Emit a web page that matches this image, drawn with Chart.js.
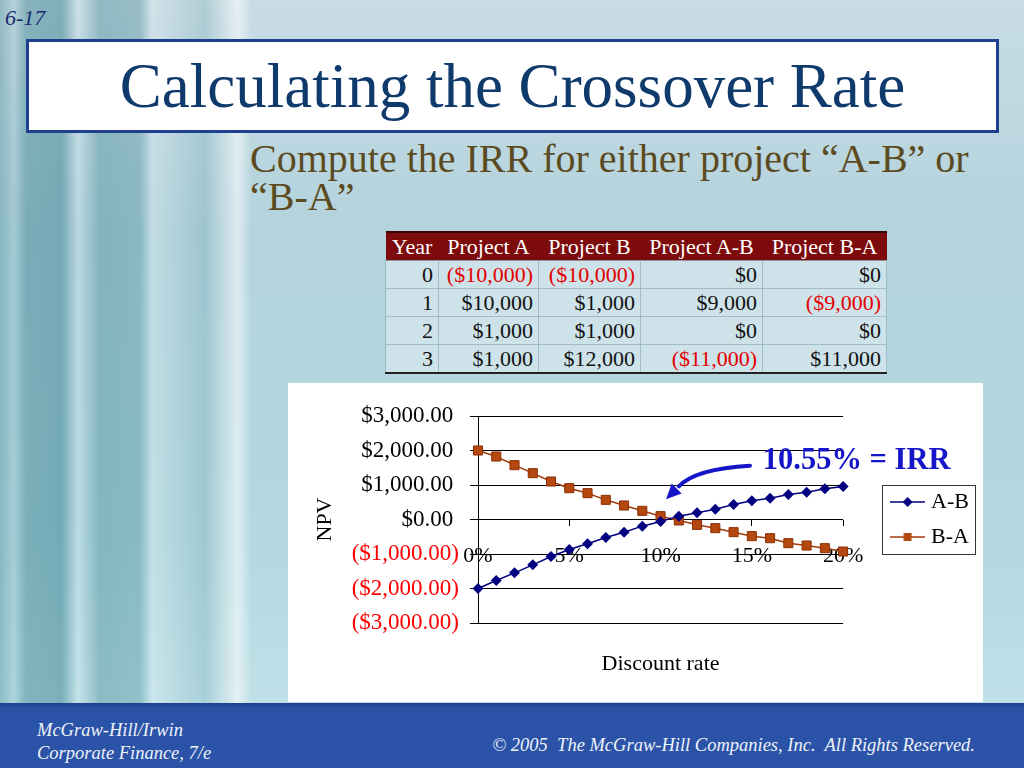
<!DOCTYPE html>
<html>
<head>
<meta charset="utf-8">
<title>Calculating the Crossover Rate</title>
<script src="https://cdn.jsdelivr.net/npm/chart.js@4.4.1/dist/chart.umd.min.js"></script>
<style>
  body {
    margin: 0;
    width: 1024px;
    height: 768px;
    overflow: hidden;
    position: relative;
    font-family: "Liberation Serif", "Times New Roman", serif;
    background:
      linear-gradient(to right, rgba(30,110,125,0.30) 0px, rgba(30,110,125,0.10) 14px, rgba(30,110,125,0.38) 26px, rgba(30,110,125,0.42) 62px, rgba(255,255,255,0.10) 78px, rgba(30,110,125,0.32) 100px, rgba(30,110,125,0.28) 140px, rgba(255,255,255,0.18) 152px, rgba(30,110,125,0.14) 205px, rgba(255,255,255,0.55) 238px, rgba(255,255,255,0) 252px, rgba(255,255,255,0) 100%),
      linear-gradient(to bottom, #c8dce4 0%, #b3d3dd 30%, #b3d8e0 70%, #c4e3ea 100%);
  }
  #pageNo {
    position: absolute; left: 5px; top: 5px;
    font-style: italic; font-size: 22px; color: #1b2a6b;
  }
  #titleBox {
    position: absolute; left: 26px; top: 39px;
    width: 967px; height: 88px;
    border: 3px solid #1f3f8f;
    background: #fff;
    text-align: center;
    font-size: 63px; line-height: 88px;
    color: #0f3a6c;
  }
  #subtitle {
    position: absolute; left: 250px; top: 140px;
    font-size: 40px; line-height: 38px;
    color: #5c4b1f;
  }
  #flows {
    position: absolute; left: 385px; top: 231px;
    border-collapse: collapse;
    table-layout: fixed;
    font-size: 22px;
  }
  #flows th {
    background: #7e0b0b; color: #fff; font-weight: normal;
    height: 27px; padding: 0; border-top: 2px solid #3a0505;
    white-space: nowrap;
  }
  #flows td {
    height: 27px; padding: 0 5px 0 2px; text-align: right;
    border: 1px solid rgba(150,178,190,0.8);
    background: rgba(255,255,255,0.35);
    color: #111; white-space: nowrap;
  }
  #flows tr:last-child td { border-bottom: 2px solid #222; }
  #flows td.neg { color: #e40000; }
  #chartBox {
    position: absolute; left: 288px; top: 383px;
    width: 695px; height: 319px;
    background: #fff;
  }
  #footer {
    position: absolute; left: 0; top: 703px;
    width: 1024px; height: 65px;
    background: linear-gradient(to bottom, #1e3f8e 0px, #2a52a6 5px, #2b53a7 100%);
    color: #eef2fa; font-style: italic; font-size: 18.5px;
  }
  #footer .left { position: absolute; left: 37px; top: 16px; line-height: 23px; }
  #footer .right { position: absolute; right: 49px; top: 32px; }
</style>
</head>
<body>
<div id="pageNo">6-17</div>
<div id="titleBox">Calculating the Crossover Rate</div>
<div id="subtitle">Compute the IRR for either project “A-B” or<br>“B-A”</div>
<table id="flows">
  <colgroup><col style="width:53px"><col style="width:100px"><col style="width:102px"><col style="width:122px"><col style="width:124px"></colgroup>
  <thead><tr><th>Year</th><th>Project A</th><th>Project B</th><th>Project A-B</th><th>Project B-A</th></tr></thead>
  <tbody id="flowRows"></tbody>
</table>
<div id="chartBox"><canvas id="npvChart"></canvas></div>
<div id="footer">
  <div class="left">McGraw-Hill/Irwin<br>Corporate Finance, 7/e</div>
  <div class="right">© 2005&nbsp; The McGraw-Hill Companies, Inc.&nbsp; All Rights Reserved.</div>
</div>

<script>
// cash flow table
const years = [0, 1, 2, 3];
const projectA = [-10000, 10000, 1000, 1000];
const projectB = [-10000, 1000, 1000, 12000];
const projectAB = [0, 9000, 0, -11000];
const projectBA = [0, -9000, 0, 11000];

// NPV profile
const rates = [0, 1, 2, 3, 4, 5, 6, 7, 8, 9, 10, 11, 12, 13, 14, 15, 16, 17, 18, 19, 20];
const npvAB = [-2000, -1768, -1546, -1314, -1072, -870, -705, -522, -367, -193, -58, 97, 193, 300, 435, 541, 618, 725, 792, 889, 957];
const npvBA = [2000, 1826, 1575, 1343, 1101, 908, 763, 570, 406, 251, 97, -29, -155, -251, -367, -483, -541, -686, -754, -831, -928];
const rateTicks = [0, 5, 10, 15, 20];
const npvTicks = [-3000, -2000, -1000, 0, 1000, 2000, 3000];
const irrLabel = '10.55% = IRR';

function money(v) {
  const s = '$' + Math.abs(v).toLocaleString('en-US');
  return v < 0 ? '(' + s + ')' : s;
}

const rowsEl = document.getElementById('flowRows');
years.forEach((yr, i) => {
  const tr = document.createElement('tr');
  const cells = [yr, projectA[i], projectB[i], projectAB[i], projectBA[i]];
  cells.forEach((v, c) => {
    const td = document.createElement('td');
    td.textContent = c === 0 ? v : money(v);
    if (c > 0 && v < 0) td.className = 'neg';
    tr.appendChild(td);
  });
  rowsEl.appendChild(tr);
});

// legend samples: line with marker, like Excel
function legendSample(lineColor, fill, diamond) {
  const c = document.createElement('canvas');
  c.width = 35; c.height = 12;
  const g = c.getContext('2d');
  g.strokeStyle = lineColor; g.lineWidth = 1.5;
  g.beginPath(); g.moveTo(0, 6); g.lineTo(35, 6); g.stroke();
  g.fillStyle = fill;
  if (diamond) {
    g.beginPath(); g.moveTo(17.5, 1); g.lineTo(22.5, 6); g.lineTo(17.5, 11); g.lineTo(12.5, 6); g.closePath(); g.fill();
  } else {
    g.fillRect(13.5, 2, 8, 8);
  }
  return c;
}
const samples = [legendSample('#000080', '#000080', true), legendSample('#a33a0a', '#b5480f', false)];

const legendGap = 39;
const legendFrame = {
  id: 'legendFrame',
  beforeInit(chart) {
    const fit = chart.legend.fit;
    chart.legend.fit = function () {
      fit.bind(this)();
      this.width += legendGap;
    };
  },
  afterLayout(chart) {
    chart.legend.left += legendGap;
  },
  afterDraw(chart) {
    const lg = chart.legend;
    const boxes = lg.legendHitBoxes;
    if (!boxes || !boxes.length) return;
    const g = chart.ctx;
    const top = boxes[0].top - 6;
    const bottom = boxes[boxes.length - 1].top + boxes[boxes.length - 1].height + 6;
    g.save();
    g.strokeStyle = '#333';
    g.lineWidth = 1;
    g.strokeRect(Math.round(lg.left) + 0.5, Math.round(top) + 0.5, 93, Math.round(bottom - top));
    g.restore();
  }
};

const irrNote = {
  id: 'irrNote',
  afterDraw(chart) {
    const xs = chart.scales.x, ys = chart.scales.y;
    const px = (v) => xs.getPixelForValue(v);
    const py = (v) => ys.getPixelForValue(v);
    const g = chart.ctx;
    g.save();
    g.fillStyle = '#1616c8';
    g.strokeStyle = '#1616c8';
    g.font = 'bold 30.5px "Liberation Serif"';
    g.textBaseline = 'alphabetic';
    g.fillText(irrLabel, px(15.6), py(1460));
    // curved arrow pointing at the crossover
    const sx = px(14.9), sy = py(1560);
    const cx = px(11.9), cy = py(1470);
    const ex = px(11.0), ey = py(960);
    const tx = px(10.3), ty = py(590);
    g.lineWidth = 4;
    g.lineCap = 'round';
    g.beginPath(); g.moveTo(sx, sy); g.quadraticCurveTo(cx, cy, ex, ey); g.stroke();
    const ang = Math.atan2(ty - ey, tx - ex);
    const len = 15, half = 7;
    const bx = tx - len * Math.cos(ang), by = ty - len * Math.sin(ang);
    g.beginPath();
    g.moveTo(tx, ty);
    g.lineTo(bx - half * Math.sin(ang), by + half * Math.cos(ang));
    g.lineTo(bx + half * Math.sin(ang), by - half * Math.cos(ang));
    g.closePath(); g.fill();
    g.restore();
  }
};

Chart.defaults.font.family = '"Liberation Serif", "Times New Roman", serif';
Chart.defaults.color = '#000';

new Chart(document.getElementById('npvChart'), {
  type: 'line',
  data: {
    datasets: [{
      label: 'A-B',
      data: rates.map((r, i) => ({ x: r, y: npvAB[i] })),
      borderColor: '#000080',
      backgroundColor: '#000080',
      borderWidth: 1.5,
      pointStyle: 'rectRot',
      pointRadius: 5.5,
      pointBorderWidth: 0,
      clip: false
    }, {
      label: 'B-A',
      data: rates.map((r, i) => ({ x: r, y: npvBA[i] })),
      borderColor: '#a33a0a',
      backgroundColor: '#b5480f',
      borderWidth: 1.5,
      pointStyle: 'rect',
      pointRadius: 6.4,
      pointBorderWidth: 1,
      pointBorderColor: '#8a2f05',
      clip: false
    }]
  },
  options: {
    responsive: true,
    maintainAspectRatio: false,
    animation: false,
    layout: { padding: { left: 20, right: 4, top: 33, bottom: 20 } },
    scales: {
      x: {
        type: 'linear',
        min: 0, max: 20,
        position: { y: 0 },
        afterBuildTicks: (scale) => { scale.ticks = rateTicks.map(v => ({ value: v })); },
        grid: { drawOnChartArea: false, color: '#000', tickLength: 6 },
        border: { display: false },
        ticks: {
          callback: (v) => v + '%',
          font: { size: 22 },
          color: '#000',
          padding: 18,
          maxRotation: 0,
          autoSkip: false
        }
      },
      x2: {
        type: 'linear',
        axis: 'x',
        position: 'bottom',
        min: 0, max: 20,
        grid: { display: false, drawTicks: false },
        border: { display: false },
        ticks: { display: false },
        title: { display: true, text: 'Discount rate', font: { size: 22 }, color: '#000', padding: { top: 0, bottom: 5 } },
        afterFit: (scale) => { scale.height = 59; }
      },
      y: {
        min: -3000, max: 3000,
        afterBuildTicks: (scale) => { scale.ticks = npvTicks.map(v => ({ value: v })); },
        grid: { color: '#000', tickLength: 8, lineWidth: 1 },
        border: { color: '#000', width: 1 },
        ticks: {
          font: { size: 23 },
          padding: 11,
          color: (ctx) => ctx.tick.value < 0 ? '#ff0000' : '#000',
          callback: (v) => {
            const s = '$' + Math.abs(v).toLocaleString('en-US', { minimumFractionDigits: 2, maximumFractionDigits: 2 });
            // positive values keep room for the closing parenthesis, as in Excel
            return v < 0 ? '(' + s + ')' : s + ' ';
          }
        },
        title: { display: true, text: 'NPV', font: { size: 22 }, color: '#000', padding: { top: 4, bottom: 0 } },
        afterFit: (scale) => { scale.width = 170; }
      }
    },
    plugins: {
      legend: {
        position: 'right',
        fullSize: false,
        labels: {
          usePointStyle: true,
          pointStyleWidth: 25,
          padding: 13,
          font: { size: 22 },
          color: '#000',
          generateLabels: (chart) => chart.data.datasets.map((ds, i) => ({
            text: ds.label,
            pointStyle: samples[i],
            datasetIndex: i,
            hidden: false,
            lineWidth: 0,
            fontColor: '#000'
          }))
        }
      },
      tooltip: { enabled: false }
    }
  },
  plugins: [legendFrame, irrNote]
});
</script>
</body>
</html>
